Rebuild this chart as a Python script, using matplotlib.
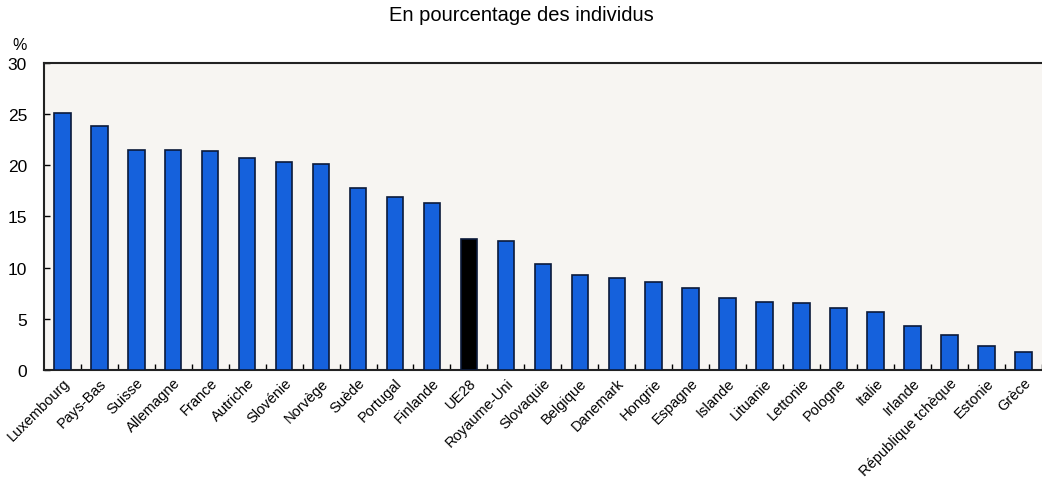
import numpy as np
import matplotlib.pyplot as plt

countries = ["Luxembourg", "Pays-Bas", "Suisse", "Allemagne", "France", "Autriche",
             "Slovénie", "Norvège", "Suède", "Portugal", "Finlande", "UE28",
             "Royaume-Uni", "Slovaquie", "Belgique", "Danemark", "Hongrie", "Espagne",
             "Islande", "Lituanie", "Lettonie", "Pologne", "Italie", "Irlande",
             "République tchèque", "Estonie", "Grèce"]
values = [25.1, 23.8, 21.5, 21.45, 21.35, 20.7, 20.35, 20.1, 17.8, 16.9, 16.3, 12.8,
          12.6, 10.3, 9.3, 9.0, 8.6, 8.0, 7.0, 6.6, 6.5, 6.05, 5.65, 4.3, 3.4, 2.3, 1.75]
highlight = "UE28"

plt.rcParams['font.family'] = ['Liberation Sans', 'DejaVu Sans']

fig = plt.figure(figsize=(10.42, 4.81), dpi=100)
ax = fig.add_axes([0.042, 0.229, 0.958, 0.638])
ax.set_facecolor('#f7f5f2')

x = np.arange(len(countries))
colors = ['black' if c == highlight else '#1561dc' for c in countries]
ax.bar(x, values, width=0.45, color=colors, edgecolor='#0b1a3a', linewidth=1.2, zorder=3)

ax.set_ylim(0, 30)
ax.set_xlim(-0.5, 26.18)
ax.set_yticks(range(0, 31, 5))
ax.tick_params(axis='y', direction='in', length=4, width=1, labelsize=12.5, pad=12)
ax.set_xticks(x + 0.5, minor=True)
ax.set_xticks(x)
ax.tick_params(axis='x', which='major', length=0, pad=4)
ax.tick_params(axis='x', which='minor', direction='in', length=4, width=1)
ax.set_xticklabels(countries, rotation=45, ha='right', rotation_mode='anchor', fontsize=10.5)

for s in ax.spines.values():
    s.set_linewidth(1.5)
    s.set_color('#222222')
ax.spines['right'].set_visible(False)

fig.text(0.5, 0.967, "En pourcentage des individus", ha='center', va='center', fontsize=14.5)
fig.text(0.012, 0.905, "%", ha='left', va='center', fontsize=11.5)

fig.savefig('out.png', dpi=100)
